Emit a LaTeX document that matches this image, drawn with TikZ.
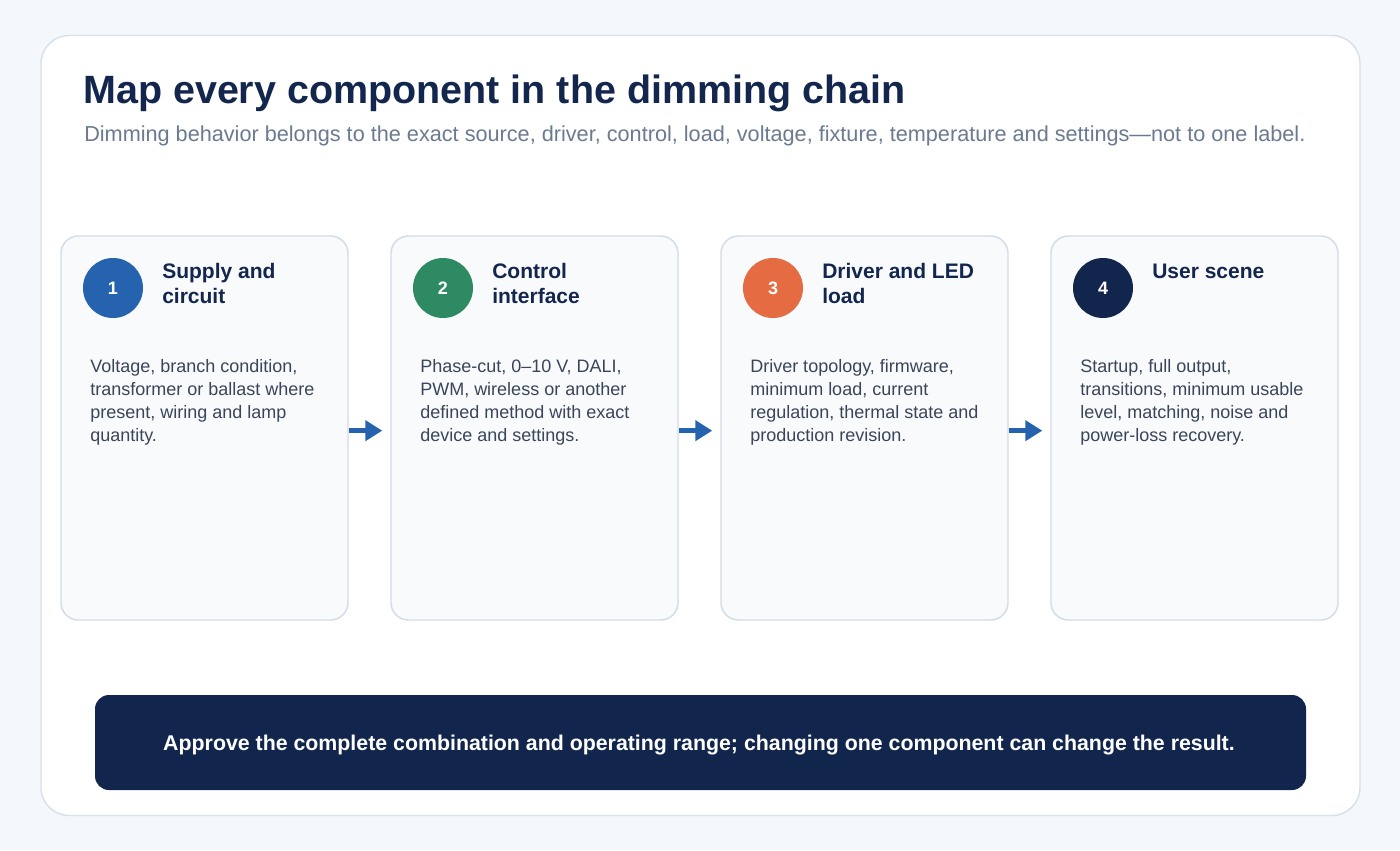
\documentclass[tikz,border=0pt]{standalone}
\usepackage{fontspec}
\setmainfont{Liberation Sans}
\usetikzlibrary{arrows.meta}
\definecolor{bg}{HTML}{F4F7FB}
\definecolor{frameline}{HTML}{D8E0EA}
\definecolor{cardfill}{HTML}{F8FAFC}
\definecolor{cardline}{HTML}{D3DCE7}
\definecolor{navy}{HTML}{13264D}
\definecolor{subgray}{HTML}{6B7A90}
\definecolor{bodygray}{HTML}{3B4559}
\definecolor{cblue}{HTML}{2563AE}
\definecolor{cgreen}{HTML}{2E8A62}
\definecolor{corange}{HTML}{E46B42}
\definecolor{cnavy}{HTML}{12264D}
\tikzset{
  framebox/.style={draw=frameline, line width=1.1pt, fill=white, rounded corners=21pt,
    minimum width=989.25pt, minimum height=585pt, inner sep=0pt},
  cardbox/.style={draw=cardline, line width=1.1pt, fill=cardfill, rounded corners=13pt,
    minimum width=215.25pt, minimum height=288pt, inner sep=0pt},
  numdot/.style={circle, fill=#1, minimum size=45pt, inner sep=0pt, text=white,
    font=\fontsize{13.5}{16}\selectfont\bfseries},
  headtext/.style={anchor=north west, inner sep=0pt, align=left, text=navy,
    font=\fontsize{15.75}{18.75}\selectfont\bfseries},
  bodytext/.style={anchor=north west, inner sep=0pt, align=left, text=bodygray,
    font=\fontsize{13.5}{17.25}\selectfont},
  flowarrow/.style={draw=cblue, line width=3.75pt,
    -{Triangle[length=12.75pt, width=15pt]}, shorten >=6pt},
  bannerbox/.style={fill=cnavy, rounded corners=10.5pt, minimum width=908.25pt,
    minimum height=71.25pt, inner sep=0pt}
}
\newcommand{\hs}{\rule{0pt}{13.5pt}}
\newcommand{\bs}{\rule{0pt}{11.25pt}}
\begin{document}
\begin{tikzpicture}[x=0.75pt,y=-0.75pt]
\useasboundingbox (0,0) rectangle (1400,850);
\fill[bg] (0,0) rectangle (1400,850);
\node[framebox] (frame) at (700.5,425.5) {};

\node[anchor=base west, inner sep=0pt, text=navy, font=\fontsize{29.6}{34}\selectfont\bfseries] (title) at (83,103.5) {Map every component in the dimming chain};
\node[anchor=base west, inner sep=0pt, text=subgray, font=\fontsize{16.25}{19}\selectfont] (subtitle) at (84,141.5) {Dimming behavior belongs to the exact source, driver, control, load, voltage, fixture, temperature and settings—not to one label.};

% cards
\node[cardbox] (c1) at (204.5,428) {};
\node[cardbox] (c2) at (534.5,428) {};
\node[cardbox] (c3) at (864.5,428) {};
\node[cardbox] (c4) at (1194.5,428) {};

% number dots
\node[numdot=cblue] (n1) at (113,288) {1};
\node[numdot=cgreen] (n2) at (443,288) {2};
\node[numdot=corange] (n3) at (773,288) {3};
\node[numdot=cnavy] (n4) at (1103,288) {4};

% headings
\node[headtext] (h1) at (162,260) {\hs Supply and\\circuit};
\node[headtext] (h2) at (492,260) {\hs Control\\interface};
\node[headtext] (h3) at (822,260) {\hs Driver and LED\\load};
\node[headtext] (h4) at (1152,260) {\hs User scene};

% bodies
\node[bodytext] (b1) at (90,357) {\bs Voltage, branch condition,\\transformer or ballast where\\present, wiring and lamp\\quantity.};
\node[bodytext] (b2) at (420,357) {\bs Phase-cut, 0–10 V, DALI,\\PWM, wireless or another\\defined method with exact\\device and settings.};
\node[bodytext] (b3) at (750,357) {\bs Driver topology, firmware,\\minimum load, current\\regulation, thermal state and\\production revision.};
\node[bodytext] (b4) at (1080,357) {\bs Startup, full output,\\transitions, minimum usable\\level, matching, noise and\\power-loss recovery.};

% arrows
\draw[flowarrow] ([yshift=-2pt]c1.east) -- ([yshift=-2pt]c2.west);
\draw[flowarrow] ([yshift=-2pt]c2.east) -- ([yshift=-2pt]c3.west);
\draw[flowarrow] ([yshift=-2pt]c3.east) -- ([yshift=-2pt]c4.west);

% banner
\node[bannerbox] (banner) at (700.5,742.5) {};
\node[anchor=base, inner sep=0pt, text=white, font=\fontsize{16}{19}\selectfont\bfseries] (bannertext) at (699,750) {Approve the complete combination and operating range; changing one component can change the result.};
\end{tikzpicture}
\end{document}
